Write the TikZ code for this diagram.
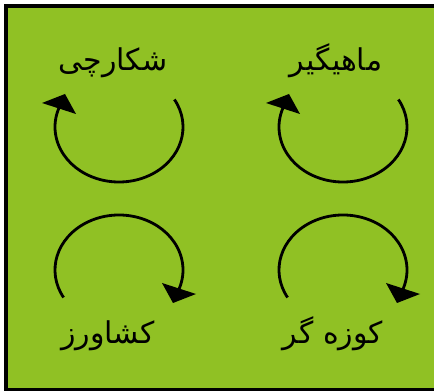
\documentclass[tikz,border=0pt]{standalone}
\usepackage{fontspec}
\newfontfamily\arabicfont[Script=Arabic]{DejaVu Sans}
\TeXXeTstate=1
\definecolor{bggreen}{RGB}{144,193,36}
\begin{document}
\begin{tikzpicture}[x=1pt,y=1pt,
  lbl/.style={font=\arabicfont\fontsize{30}{34}\selectfont, inner sep=0pt, anchor=base},
  cyc/.style={line width=2.8pt, black},
  tip/.style={fill=black}]
\clip (0,0) rectangle (434,391);
\fill[white] (0,0) rectangle (434,391);
\fill[bggreen] (6,1) rectangle (470,385);
\draw[line width=4pt] (6,1) rectangle (470,385);
% top-left
\draw[cyc] (119,264) ++(30:64pt and 55pt) arc[start angle=30, end angle=-203, x radius=64pt, y radius=55pt];
\fill[tip] (42,288) -- (65,297) -- (76,277) -- cycle;
% top-right
\draw[cyc] (343,264) ++(30:64pt and 55pt) arc[start angle=30, end angle=-203, x radius=64pt, y radius=55pt];
\fill[tip] (266,288) -- (289,297) -- (300,277) -- cycle;
% bottom-left
\draw[cyc] (119,121) ++(210:64pt and 55pt) arc[start angle=210, end angle=-23, x radius=64pt, y radius=55pt];
\fill[tip] (196,97) -- (173,88) -- (162,108) -- cycle;
% bottom-right
\draw[cyc] (343,121) ++(210:64pt and 55pt) arc[start angle=210, end angle=-23, x radius=64pt, y radius=55pt];
\fill[tip] (420,97) -- (397,88) -- (386,108) -- cycle;
% labels
\node[lbl] (hunter) at (113,320) {\beginR شکارچی\endR};
\node[lbl] (fisher) at (336,320) {\beginR ماهیگیر\endR};
\node[lbl] (farmer) at (108,47) {\beginR کشاورز\endR};
\node[lbl] (potter) at (333,47) {\beginR کوزه گر\endR};
\end{tikzpicture}
\end{document}
